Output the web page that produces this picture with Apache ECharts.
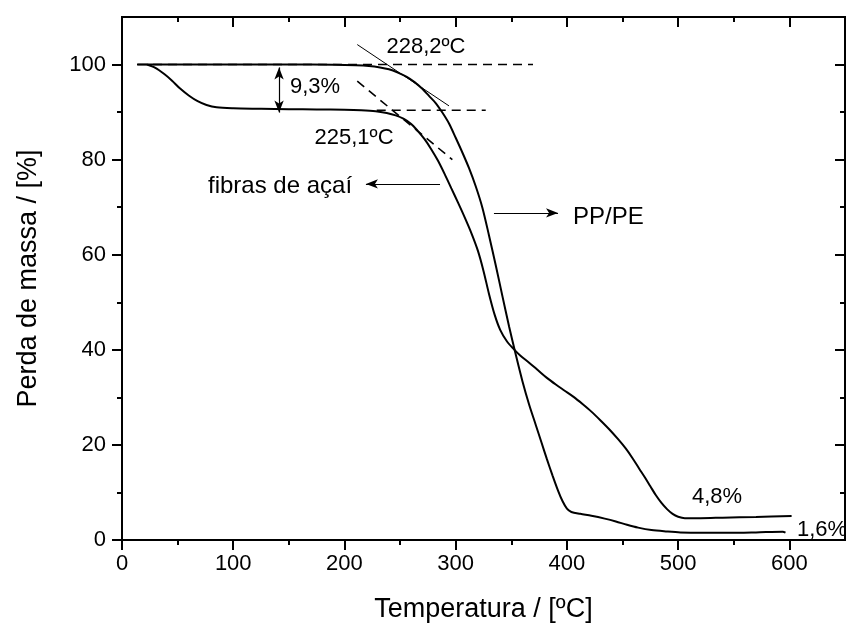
<!DOCTYPE html>
<html>
<head>
<meta charset="utf-8">
<script src="https://cdn.jsdelivr.net/npm/echarts@6/dist/echarts.min.js"></script>
<style>
  html, body { margin: 0; padding: 0; background: #fff; }
  #chart { width: 846px; height: 623px; }
</style>
</head>
<body>
<div id="chart"></div>
<script>
  // TGA curves, [temperature ºC, mass %]
  const acai = [
    [22.5, 100], [30, 99.3], [38, 98.0], [45, 96.6], [52, 95.0], [60, 93.5], [68, 92.3],
    [76, 91.5], [85, 91.0], [100, 90.8], [125, 90.7], [150, 90.6], [175, 90.55], [200, 90.5],
    [215, 90.4], [228, 90.2], [238, 89.8], [246, 89.3], [253, 88.6], [260, 87.5], [266, 86.0],
    [272, 84.3], [278, 82.2], [284, 79.8], [290, 77.0], [296, 74.0], [302, 71.0], [308, 67.9],
    [314, 64.6], [320, 60.8], [325, 56.6], [330, 51.7], [335, 47.4], [340, 44.2], [346, 41.8],
    [352, 40.2], [358, 38.8], [366, 37.3], [374, 35.7], [382, 34.1], [390, 32.7], [398, 31.4],
    [406, 30.1], [414, 28.6], [422, 27.0], [430, 25.2], [438, 23.3], [446, 21.2], [453, 19.2],
    [459, 17.2], [465, 15.0], [470, 13.2], [475, 11.3], [480, 9.4], [485, 7.8], [490, 6.5],
    [495, 5.5], [500, 4.9], [506, 4.6], [520, 4.6], [540, 4.7], [570, 4.85], [602, 5.05]
  ]
  const ppPe = [
    [13.5, 100], [50, 100], [100, 100], [150, 100], [190, 99.95], [210, 99.85], [222, 99.7],
    [232, 99.4], [240, 99.0], [248, 98.3], [256, 97.4], [263, 96.3], [270, 94.9], [276, 93.4],
    [282, 91.9], [288, 89.9], [294, 87.6], [300, 84.6], [306, 81.5], [312, 78.2], [318, 74.4],
    [324, 69.9], [330, 64.0], [336, 57.8], [342, 51.3], [348, 44.9], [354, 39.0], [360, 33.4],
    [366, 28.5], [372, 24.2], [377, 20.6], [382, 17.0], [387, 13.6], [392, 10.4], [396, 8.2],
    [400, 6.6], [404, 5.9], [412, 5.5], [422, 5.1], [434, 4.5], [444, 3.9], [454, 3.2],
    [464, 2.6], [476, 2.1], [490, 1.8], [502, 1.6], [520, 1.5], [545, 1.5], [570, 1.6],
    [594, 1.75], [596.5, 1.55]
  ]

  // onset construction lines
  const dash100 = [[14.4, 100], [369.5, 100]]
  const dash90 = [[229, 90.4], [327, 90.4]]
  const dashSlope = [[211.5, 96.5], [297, 80.0]]
  const tangentPP = [[211.5, 104.2], [294, 91.3]]

  // tick positions
  const xMajor = [0, 100, 200, 300, 400, 500, 600]
  const xMinor = [50, 150, 250, 350, 450, 550]
  const yMajor = [0, 20, 40, 60, 80, 100]
  const yMinor = [10, 30, 50, 70, 90]

  // annotations: [x, y, text, align, font size]
  const notes = [
    [273.3, 103.7, '228,2ºC', 'center', 22],
    [208.6, 84.5, '225,1ºC', 'center', 22],
    [151, 95.3, '9,3%', 'left', 22],
    [77.3, 74.4, 'fibras de açaí', 'left', 24],
    [405.5, 67.9, 'PP/PE', 'left', 24],
    [535, 9.0, '4,8%', 'center', 22],
    [606.8, 2.1, '1,6%', 'left', 22]
  ]
  // arrows: [from, to, double headed]
  const arrows = [
    [[285.9, 74.9], [219.3, 74.9], false],
    [[334.4, 68.8], [392, 68.8], false],
    [[141.2, 89.9], [141.2, 99.4], true]
  ]

  const FONT = '"Liberation Sans", Arial, sans-serif'
  const BLACK = '#000'
  const chart = echarts.init(document.getElementById('chart'))

  const lineStyle = (w, type) => ({ color: BLACK, width: w, type: type || 'solid' })
  const plain = (data, w, type) => ({
    type: 'line', data, showSymbol: false, silent: true, smooth: false,
    lineStyle: lineStyle(w, type), z: 3
  })

  // one axis per side for major ticks (with line), one more for the short minor ticks
  function axis(kind, pos, ticks, len, opts) {
    const isX = kind === 'x'
    return Object.assign({
      type: 'value', min: 0, max: isX ? 650 : 110, position: pos,
      axisLine: { show: true, onZero: false, lineStyle: { color: BLACK, width: 2 } },
      axisTick: {
        show: true, inside: pos === 'top' || pos === 'right', length: len,
        customValues: ticks, lineStyle: { color: BLACK, width: 2 }
      },
      axisLabel: { show: false },
      splitLine: { show: false }
    }, opts || {})
  }
  const labelStyle = (vals, margin) => ({
    show: true, customValues: vals, fontSize: 22, fontFamily: FONT, color: BLACK, margin
  })
  const nameStyle = { fontSize: 27, fontFamily: FONT, color: BLACK }

  const arrowData = arrows.map(a => [
    { coord: a[0], symbol: a[2] ? 'arrow' : 'none' },
    { coord: a[1], symbol: 'arrow' }
  ])

  chart.setOption({
    animation: false,
    grid: {
      left: 122, top: 17, right: 1, bottom: 83,
      containLabel: false, outerBoundsMode: 'none'
    },
    xAxis: [
      axis('x', 'bottom', xMajor, 10, {
        name: 'Temperatura / [ºC]', nameLocation: 'middle', nameGap: 56,
        nameTextStyle: nameStyle, axisLabel: labelStyle(xMajor, 13)
      }),
      axis('x', 'bottom', xMinor, 5),
      axis('x', 'top', xMajor, 10),
      axis('x', 'top', xMinor, 5)
    ],
    yAxis: [
      axis('y', 'left', yMajor, 10, {
        name: 'Perda de massa / [%]', nameLocation: 'middle', nameGap: 80,
        nameTextStyle: nameStyle, axisLabel: labelStyle(yMajor, 16)
      }),
      axis('y', 'left', yMinor, 5),
      axis('y', 'right', yMajor, 10),
      axis('y', 'right', yMinor, 5)
    ],
    series: [
      {
        name: 'fibras de açaí', type: 'line', data: acai, smooth: 0.3,
        showSymbol: false, lineStyle: lineStyle(2), z: 4
      },
      {
        name: 'PP/PE', type: 'line', data: ppPe, smooth: 0.3,
        showSymbol: false, lineStyle: lineStyle(2), z: 4
      },
      plain(dash100, 1.6, [9, 6]),
      plain(dash90, 1.6, [9, 6]),
      plain(dashSlope, 1.6, [9, 6]),
      plain(tangentPP, 1),
      {
        type: 'line', data: [], silent: true,
        markLine: {
          silent: true, symbolSize: [7, 12], label: { show: false },
          lineStyle: { color: BLACK, width: 1.2, type: 'solid' },
          data: arrowData
        }
      }
    ]
  })

  chart.setOption({
    graphic: notes.map(n => {
      const p = chart.convertToPixel({ xAxisIndex: 0, yAxisIndex: 0 }, [n[0], n[1]])
      return {
        type: 'text', x: p[0], y: p[1], silent: true,
        style: {
          text: n[2], fill: BLACK, font: n[4] + 'px ' + FONT,
          textAlign: n[3], textVerticalAlign: 'middle'
        }
      }
    })
  })
</script>
</body>
</html>
